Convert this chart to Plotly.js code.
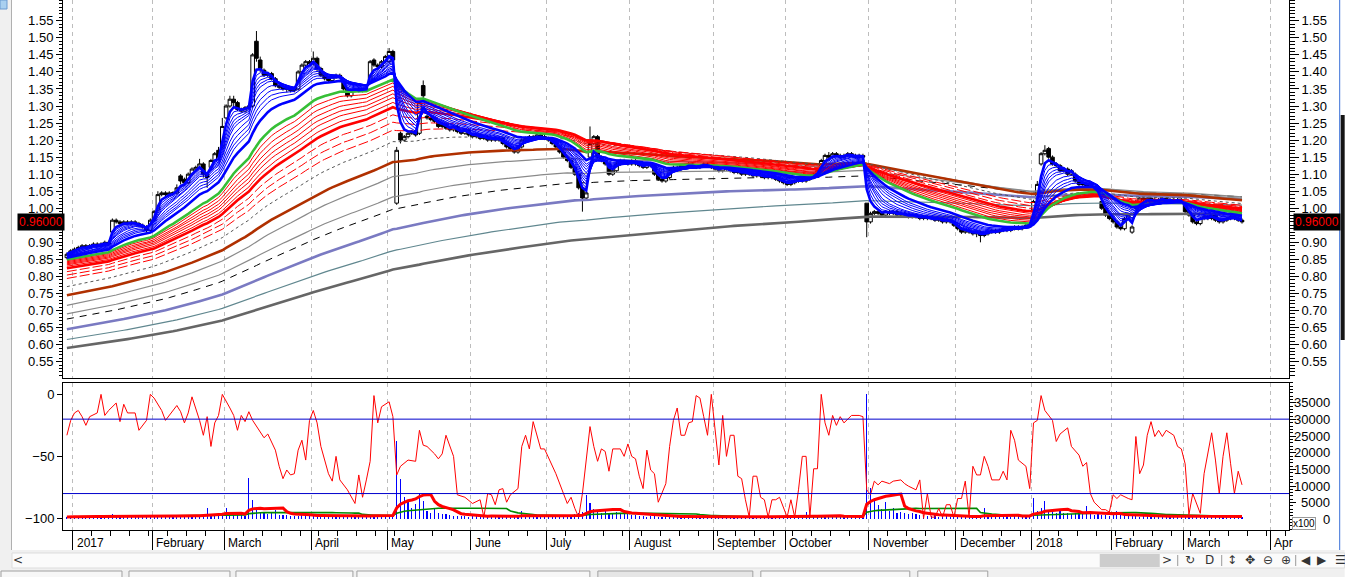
<!DOCTYPE html>
<html><head><meta charset="utf-8">
<script src="https://cdn.plot.ly/plotly-3.0.1.min.js"></script>
<style>html,body{margin:0;padding:0;background:#fff;overflow:hidden}#chart{width:1345px;height:577px}</style>
</head><body><div id="chart"></div>
<script>
// ---------------- DATA ----------------
const monthLabels = ['2017','February','March','April','May','June','July','August','September','October','November','December','2018','February','March','Apr'];
const monthFirstBar = [2,23,42,65,85,107,127,149,171,190,212,235,255,276,295,318];

const priceOpen = [
.855,.865,.875,.88,.885,.89,.885,.89,.895,.89,.895,.9,
.93,.965,.96,.955,.96,.955,.96,.955,.95,.945,.935,
.965,.995,1.04,1.045,1.04,1.045,1.045,
1.095,1.085,1.075,1.10,1.115,1.12,1.13,1.10,1.12,1.14,1.17,
1.18,1.265,1.30,1.32,1.31,1.29,1.285,1.295,
1.30,1.49,1.435,1.405,1.39,1.395,1.38,1.36,1.355,1.35,1.35,1.345,
1.35,1.40,1.42,1.43,1.425,1.44,1.41,1.39,1.38,1.375,1.385,1.39,
1.37,1.35,1.33,1.345,1.35,1.345,1.35,1.37,1.435,1.42,1.415,1.43,1.43,1.46,
1.015,1.22,1.20,1.21,1.22,1.225,1.22,1.36,1.27,1.265,1.26,1.255,1.24,
1.245,1.235,1.23,1.24,1.225,1.22,1.23,1.215,1.21,1.215,1.205,1.21,1.20,
1.205,1.20,1.205,1.19,1.18,1.175,1.165,1.18,1.20,1.205,1.21,1.205,1.215,1.21,1.205,
1.20,1.19,1.18,1.165,1.15,1.14,1.12,1.10,1.06,1.03,1.15,1.19,
1.21,1.15,1.14,1.13,1.10,1.11,1.13,1.14,1.135,1.13,1.14,1.13,1.125,1.12,1.13,
1.125,1.10,1.085,1.08,1.09,1.11,1.12,1.115,1.125,1.12,1.13,1.125,1.12,1.125,1.13,
1.125,1.12,1.115,1.11,1.12,1.115,1.11,1.105,1.11,1.10,1.105,1.10,1.095,1.10,1.095,1.09,1.095,1.09,
1.085,1.08,1.075,1.07,1.075,1.08,1.085,1.08,1.085,1.09,1.10,
1.11,1.14,1.155,1.15,1.16,1.155,1.15,1.155,1.16,1.155,1.15,1.155,
1.015,.96,.985,.99,.985,.98,.99,.985,.99,.98,.985,
.98,.975,.98,.975,.97,.975,.97,.97,.965,.97,.96,.965,
.96,.95,.94,.93,.935,.93,.925,.93,.92,.925,
.93,.935,.93,.935,.94,.935,.94,.945,.94,.945,.95,
.995,1.03,1.13,1.16,1.175,1.15,1.13,1.125,1.11,1.115,1.10,
1.10,1.08,1.07,1.07,1.065,1.06,1.05,1.02,1.00,.98,.97,.96,.945,
.94,.97,.93,1.00,1.02,1.03,1.025,1.03,1.025,1.02,1.025,1.03,1.02,
1.025,1.02,1.025,1.01,.99,.98,.96,.955,.97,.975,.97,.98,.965,.96,.965,.97,.975,.97,.965];

const priceHigh = [
.87,.88,.885,.89,.895,.895,.895,.90,.90,.90,.905,.905,
.97,.97,.965,.965,.965,.965,.965,.96,.955,.95,.97,
.995,1.05,1.05,1.05,1.05,1.05,1.07,
1.10,1.09,1.105,1.12,1.125,1.145,1.135,1.105,1.145,1.165,1.18,
1.265,1.305,1.33,1.33,1.315,1.295,1.30,1.305,
1.455,1.52,1.445,1.41,1.40,1.40,1.385,1.365,1.36,1.355,1.355,1.355,
1.405,1.425,1.435,1.435,1.46,1.445,1.415,1.395,1.385,1.39,1.395,1.395,
1.375,1.355,1.345,1.35,1.355,1.35,1.355,1.435,1.44,1.425,1.435,1.45,1.47,1.465,
1.18,1.225,1.215,1.225,1.23,1.23,1.315,1.375,1.275,1.27,1.265,1.26,1.25,
1.25,1.24,1.245,1.245,1.23,1.235,1.235,1.22,1.22,1.22,1.215,1.215,1.21,
1.21,1.21,1.21,1.195,1.185,1.18,1.185,1.205,1.21,1.215,1.215,1.22,1.22,1.215,1.21,
1.205,1.195,1.185,1.17,1.155,1.145,1.125,1.105,1.065,1.05,1.24,1.215,
1.215,1.155,1.145,1.135,1.115,1.135,1.145,1.145,1.14,1.145,1.145,1.135,1.13,1.135,1.135,
1.13,1.105,1.09,1.095,1.115,1.125,1.125,1.13,1.13,1.135,1.135,1.13,1.13,1.135,1.135,
1.13,1.125,1.12,1.125,1.125,1.12,1.115,1.115,1.115,1.11,1.11,1.105,1.105,1.105,1.10,1.10,1.10,1.095,
1.09,1.085,1.08,1.08,1.085,1.09,1.09,1.09,1.095,1.105,1.115,
1.145,1.16,1.165,1.165,1.165,1.16,1.16,1.165,1.165,1.16,1.16,1.16,
1.015,.99,.995,.995,.99,.995,.995,.995,.995,.99,.99,
.985,.985,.985,.98,.98,.98,.975,.975,.975,.975,.97,.97,
.965,.955,.945,.94,.94,.935,.935,.935,.93,.935,
.94,.94,.94,.945,.945,.945,.95,.95,.95,.955,.96,
1.025,1.08,1.165,1.185,1.18,1.155,1.135,1.13,1.12,1.12,1.115,
1.105,1.085,1.075,1.075,1.075,1.065,1.055,1.025,1.005,.985,.975,.965,.95,
.975,.985,.95,1.025,1.035,1.035,1.035,1.035,1.03,1.03,1.035,1.035,1.03,
1.03,1.03,1.03,1.015,.995,.985,.965,.975,.98,.98,.985,.985,.97,.97,.975,.98,.98,.975,.97];

const priceLow = [
.85,.86,.87,.875,.88,.88,.88,.885,.885,.885,.89,.89,
.925,.955,.95,.95,.95,.95,.95,.945,.94,.93,.93,
.96,.99,1.035,1.035,1.035,1.04,1.04,
1.07,1.065,1.07,1.095,1.11,1.115,1.09,1.06,1.115,1.135,1.145,
1.175,1.26,1.295,1.30,1.285,1.28,1.28,1.29,
1.295,1.43,1.40,1.385,1.385,1.375,1.355,1.35,1.345,1.34,1.34,1.34,
1.345,1.395,1.415,1.42,1.42,1.40,1.385,1.375,1.37,1.37,1.38,1.38,
1.345,1.325,1.325,1.34,1.34,1.34,1.345,1.365,1.415,1.41,1.41,1.425,1.425,1.43,
1.01,1.19,1.195,1.205,1.215,1.21,1.215,1.32,1.26,1.255,1.25,1.235,1.235,
1.23,1.225,1.225,1.22,1.215,1.215,1.21,1.205,1.205,1.20,1.20,1.195,1.195,
1.195,1.195,1.185,1.175,1.17,1.16,1.16,1.175,1.195,1.20,1.20,1.20,1.205,1.20,1.195,
1.185,1.175,1.16,1.145,1.135,1.115,1.095,1.055,.99,1.025,1.145,1.185,
1.145,1.135,1.125,1.095,1.095,1.105,1.125,1.13,1.125,1.125,1.125,1.12,1.115,1.115,1.12,
1.095,1.08,1.075,1.075,1.085,1.105,1.11,1.11,1.115,1.115,1.12,1.115,1.115,1.12,1.12,
1.115,1.11,1.105,1.105,1.11,1.105,1.10,1.10,1.095,1.095,1.095,1.09,1.09,1.09,1.085,1.085,1.085,1.08,
1.075,1.07,1.065,1.065,1.07,1.075,1.075,1.075,1.08,1.085,1.095,
1.105,1.135,1.145,1.145,1.15,1.145,1.145,1.15,1.15,1.145,1.145,1.145,
.915,.955,.98,.98,.975,.975,.98,.98,.975,.975,.975,
.97,.97,.97,.965,.965,.965,.965,.96,.96,.955,.955,.955,
.945,.935,.925,.925,.925,.92,.915,.90,.915,.92,
.925,.925,.925,.93,.93,.93,.935,.935,.935,.94,.945,
.99,1.025,1.125,1.155,1.145,1.125,1.12,1.105,1.105,1.095,1.095,
1.075,1.065,1.06,1.06,1.06,1.045,1.035,.995,.975,.965,.955,.94,.935,
.935,.965,.925,.995,1.015,1.02,1.02,1.02,1.015,1.015,1.02,1.015,1.015,
1.015,1.015,1.015,.985,.975,.955,.95,.95,.965,.965,.965,.96,.955,.955,.96,.965,.965,.96,.955];

const priceClose = [
.865,.875,.88,.885,.89,.885,.89,.895,.89,.895,.9,.895,
.965,.96,.955,.96,.955,.96,.955,.95,.945,.935,.965,
.99,1.04,1.045,1.04,1.045,1.045,1.06,
1.08,1.075,1.10,1.115,1.12,1.13,1.10,1.09,1.14,1.16,1.15,
1.24,1.30,1.32,1.31,1.29,1.285,1.295,1.30,
1.45,1.44,1.41,1.39,1.395,1.38,1.36,1.355,1.35,1.35,1.345,1.35,
1.40,1.42,1.43,1.425,1.44,1.41,1.39,1.38,1.375,1.385,1.39,1.385,
1.35,1.33,1.345,1.35,1.345,1.35,1.35,1.43,1.42,1.415,1.43,1.445,1.46,1.435,
1.17,1.20,1.21,1.22,1.225,1.215,1.31,1.33,1.265,1.26,1.255,1.24,1.245,
1.235,1.23,1.24,1.225,1.22,1.23,1.215,1.21,1.215,1.205,1.21,1.20,1.205,
1.20,1.205,1.19,1.18,1.175,1.165,1.18,1.20,1.205,1.21,1.205,1.215,1.21,1.205,1.20,
1.19,1.18,1.165,1.15,1.14,1.12,1.10,1.06,1.03,1.045,1.19,1.21,
1.15,1.14,1.13,1.10,1.11,1.13,1.14,1.135,1.13,1.14,1.13,1.125,1.12,1.13,1.125,
1.10,1.085,1.08,1.09,1.11,1.12,1.115,1.125,1.12,1.13,1.125,1.12,1.125,1.13,1.125,
1.12,1.115,1.11,1.12,1.115,1.11,1.105,1.11,1.10,1.105,1.10,1.095,1.10,1.095,1.09,1.095,1.09,1.085,
1.08,1.075,1.07,1.075,1.08,1.085,1.08,1.085,1.09,1.10,1.11,
1.14,1.155,1.15,1.16,1.155,1.15,1.155,1.16,1.155,1.15,1.155,1.15,
.96,.985,.99,.985,.98,.99,.985,.99,.98,.985,.98,
.975,.98,.975,.97,.975,.97,.97,.965,.97,.96,.965,.96,
.95,.94,.93,.935,.93,.925,.93,.92,.925,.93,
.935,.93,.935,.94,.935,.94,.945,.94,.945,.95,.955,
1.02,1.07,1.16,1.17,1.15,1.13,1.125,1.11,1.115,1.10,1.11,
1.08,1.07,1.07,1.065,1.07,1.05,1.04,1.00,.98,.97,.96,.945,.94,
.97,.98,.945,1.02,1.03,1.025,1.03,1.025,1.02,1.025,1.03,1.02,1.025,
1.02,1.025,1.02,.99,.98,.96,.955,.97,.975,.97,.98,.965,.96,.965,.97,.975,.97,.965,.96];

// volume, in units of x100 (right axis of the lower panel)
const volume = [
700,900,600,800,1000,700,900,800,1100,700,900,800,
1600,1200,900,1100,800,1000,900,1200,800,900,1000,
1300,1100,900,1000,1200,800,1100,1300,1000,900,1200,1100,1000,1400,
3500,1200,1500,1300,1800,3300,1400,1200,1600,1300,1100,
12500,5800,3000,2200,1800,1500,2000,2700,1400,1200,1300,1000,1100,900,1600,1200,1000,
1100,1300,1000,900,1200,800,1000,900,1100,1300,1000,800,900,1000,1200,900,1400,1100,1000,1200,1300,1500,
23500,12100,6800,5800,3500,4500,8000,5600,2500,2000,3300,1800,1500,1600,
1200,1000,1100,900,1000,800,1200,900,1000,700,900,1100,800,1000,900,700,800,1000,900,
2500,1100,1300,1000,1200,900,1100,1000,800,900,1000,1200,1100,900,1500,1800,2200,
7300,4800,3000,2200,1800,2500,2000,1600,2200,1800,1500,2000,1400,1200,
1000,900,800,1100,900,700,800,900,700,600,800,900,700,800,600,700,900,800,700,600,
800,700,900,600,700,800,600,700,900,800,700,600,700,800,900,700,600,800,700,600,700,800,900,700,
2300,900,800,1000,1200,1100,900,800,1000,700,800,900,700,800,900,1000,
37500,9300,6300,4300,3000,5300,2500,3300,2000,2300,
1800,1500,2000,1600,1200,1400,1000,900,1200,800,1000,900,700,800,1000,700,900,800,1100,900,800,
3300,900,1000,800,1200,900,1000,800,1100,900,1200,1000,1300,
6300,2500,3300,5500,2500,2200,2000,2400,1800,2000,1600,1800,1500,1700,
4000,1500,1300,1600,1200,1400,1100,1300,2600,
1200,1000,900,1100,1000,800,900,1000,1200,900,800,1000,900,700,800,1100,900,1000,800,900,
1000,700,800,900,1000,800,700,900,800,1000,900,800,700];

// Williams %R (null = not read at that bar)
const williamsR = [
-33,-21,-15,-13,-18,-25,-18,null,-15,0,
-17,-13,null,-7,-22,-8,-15,null,-15,-29,
null,-21,0,-3,null,-13,-21,null,null,-9,
-14,-23,-15,-2,null,-21,-33,-18,-42,-23,
-17,0,null,-11,-17,-29,-17,-22,-14,-21,
-26,null,-35,-32,null,-45,-58,-68,-61,-65,
-64,-45,-37,-53,-21,-13,-23,-42,null,-64,
-70,-50,-69,null,-77,null,-88,-65,-83,-69,
-54,-1,-23,-10,null,-6,-18,-65,-58,null,
-53,null,-54,-29,-41,-42,null,-48,-52,-48,
-33,null,-50,-81,null,-83,null,-88,null,-85,
-99,-80,-81,-89,-77,-76,-87,-81,null,-76,
-42,-33,-44,-22,null,-44,-44,null,null,-64,
null,-81,-88,-83,-92,-99,-80,null,-26,-42,
-54,-44,-46,-62,-44,null,-44,-50,-40,-50,
-52,-66,-76,-45,-61,-64,-87,null,-72,-42,
-21,-11,-33,-33,-23,-22,-1,-3,-18,-33,
0,-26,-57,-17,-50,-33,-33,-66,-68,-85,
-99,-66,-66,-83,-85,-99,-85,-85,-83,null,
-99,-85,-99,-77,-50,-50,-99,-60,-60,0,
-23,-33,-17,-25,-18,-23,null,-17,null,-17,
-18,-77,-81,-70,-73,-70,null,-72,-70,null,
-69,-72,-74,null,-77,-69,-100,-80,-99,-99,
-92,-99,-89,-89,-99,-84,-84,-70,-99,-58,
-65,-65,-50,-58,-69,null,-69,-62,-69,-29,
-37,-53,null,-58,-76,-23,-21,-1,-13,null,
-21,-38,-32,null,-27,-42,null,-49,-58,-55,
-80,-87,null,-93,-93,-95,-81,-84,-81,null,
-84,-85,-34,-64,-57,-33,-22,-34,-29,-34,
-29,null,-33,-42,-44,-56,-97,-80,null,-96,
-64,null,-31,-53,-80,-50,-31,-56,-80,-62,
-73];

// moving-average ribbons: EMA periods and their values at the left edge of the chart
const fastPeriods = [3,4,5,6,7,8,10,12,14,16,20];
const fastSeeds   = [0.866,0.865,0.864,0.863,0.862,0.861,0.860,0.859,0.858,0.857,0.855];
const midPeriod = 30, midSeed = 0.850;
const slowPeriods = [34,38,42,46,50,55,60,68,76,85];
const slowSeeds   = [0.846,0.843,0.840,0.837,0.834,0.830,0.824,0.814,0.804,0.794];
const trendPeriods = [98,125,145,180,205,250,310,380];
const trendSeeds   = [0.770,0.745,0.715,0.690,0.675,0.645,0.615,0.590];
const volumeAvgPeriods = [10,30];
const lastPrice = 0.96;

// ---------------- checks ----------------
[['open',priceOpen],['high',priceHigh],['low',priceLow],['close',priceClose],['vol',volume],['wr',williamsR]].forEach(([n,a])=>{
  if (a.length !== priceClose.length) throw new Error(n+' length '+a.length+' vs '+priceClose.length);
});

// ---------------- helpers ----------------
const bars = priceClose.map((_, i) => i);
const monthTicks = monthFirstBar.map(b => b - 0.5);
function ema(vals, period, seed){ const k = 2/(period+1); let e = seed; const out = [seed];
  for (let i=1;i<vals.length;i++){ e += k*(vals[i]-e); out.push(e); } return out; }
function sma(vals, n){ return vals.map((_, i) => { const s = Math.max(0, i-n+1); let t = 0;
  for (let k=s;k<=i;k++) t += vals[k]; return t/(i-s+1); }); }

// ---------------- styles ----------------
const BOLD = 2.6;
const trendStyles = [
  {color:'#555555', width:1, dash:'3px,3px'},
  {color:'#b03000', width:BOLD},
  {color:'#8a8a8a', width:1.2},
  {color:'#8a8a8a', width:1.2},
  {color:'#000000', width:1, dash:'7px,6px'},
  {color:'#7a7ac2', width:BOLD},
  {color:'#60878f', width:1.2},
  {color:'#666666', width:BOLD}
];
const slowBoldIndex = 6;

const traces = [];
function priceLine(y, style){ traces.push({type:'scatter', mode:'lines', x:bars, y:y, xaxis:'x2', yaxis:'y',
  line:style, hoverinfo:'skip', showlegend:false}); }

for (let j=trendPeriods.length-1;j>=0;j--) priceLine(ema(priceClose, trendPeriods[j], trendSeeds[j]), trendStyles[j]);
for (let j=slowPeriods.length-1;j>=0;j--) {
  const st = j === slowBoldIndex ? {color:'#ff0000', width:BOLD}
           : j > slowBoldIndex ? {color:'#ff0000', width:1, dash:'10px,3px'} : {color:'#ff0000', width:1};
  priceLine(ema(priceClose, slowPeriods[j], slowSeeds[j]), st);
}
priceLine(ema(priceClose, midPeriod, midSeed), {color:'#36bf36', width:BOLD});
for (let j=fastPeriods.length-1;j>=0;j--) {
  const bold = j === 0 || j === fastPeriods.length-1;
  priceLine(ema(priceClose, fastPeriods[j], fastSeeds[j]), {color:'#0000ff', width: bold ? BOLD : 1});
}
traces.push({type:'candlestick', x:bars, open:priceOpen, high:priceHigh, low:priceLow, close:priceClose,
  xaxis:'x2', yaxis:'y', whiskerwidth:0, hoverinfo:'skip', showlegend:false,
  increasing:{line:{color:'#000000', width:1}, fillcolor:'#ffffff'},
  decreasing:{line:{color:'#000000', width:1}, fillcolor:'#000000'}});
// invisible point so the right-hand price axis is drawn
traces.push({type:'scatter', mode:'markers', x:[bars[bars.length-1]], y:[priceClose[priceClose.length-1]],
  xaxis:'x2', yaxis:'y3', marker:{opacity:0}, hoverinfo:'skip', showlegend:false});

// lower panel
traces.push({type:'bar', x:bars, y:volume, xaxis:'x', yaxis:'y2', width:0.3,
  marker:{color:'#0000ff', line:{width:0}}, hoverinfo:'skip', showlegend:false});
traces.push({type:'scatter', mode:'lines', x:bars, y:sma(volume, volumeAvgPeriods[1]), xaxis:'x', yaxis:'y2',
  line:{color:'#008a00', width:1.6}, hoverinfo:'skip', showlegend:false});
traces.push({type:'scatter', mode:'lines', x:bars, y:sma(volume, volumeAvgPeriods[0]), xaxis:'x', yaxis:'y2',
  line:{color:'#ff0000', width:3}, hoverinfo:'skip', showlegend:false});
traces.push({type:'scatter', mode:'lines', x:bars, y:williamsR, xaxis:'x', yaxis:'y4', connectgaps:true,
  line:{color:'#ff0000', width:1}, hoverinfo:'skip', showlegend:false});

// ---------------- layout ----------------
const PL = 63, PW = 1226.3, PH = 530;           // plot box in pixels
const px = v => (v - PL) / PW;                   // pixel -> paper x
const py = v => (PH - v) / PH;                   // pixel -> paper y
const xRange = [-1.03, 322.4];
const priceRange = [0.502, 1.611];
const priceTicks = [0.55,0.60,0.65,0.70,0.75,0.80,0.85,0.90,0.95,1.00,1.05,1.10,1.15,1.20,1.25,1.30,1.35,1.40,1.45,1.50,1.55];
const priceTickText = priceTicks.map(v => Math.abs(v - 0.95) < 1e-9 ? '' : v.toFixed(2)); // 0.95 is hidden under the price box
const volTicks = [0,5000,10000,15000,20000,25000,30000,35000];
const font = {family:'Liberation Sans, Arial, sans-serif', size:13, color:'#000'};

const gridX = {showgrid:true, gridcolor:'#bdbdbd', griddash:'4px,4px', gridwidth:1};
function yPrice(len){ return {range:priceRange, tickvals:priceTicks, ticktext:priceTickText, ticks:'outside', ticklen:len, tickcolor:'#000',
  showgrid:false, zeroline:false, showline:true, linecolor:'#000', linewidth:1, tickfont:font,
  minor:{dtick:0.01, tick0:0.55, ticks:'outside', ticklen:len/2, tickcolor:'#000', showgrid:false}, fixedrange:true}; }

const shapes = [
  {type:'line', xref:'paper', x0:0, x1:1, yref:'y4', y0:-20, y1:-20, line:{color:'#0000cc', width:1}},
  {type:'line', xref:'paper', x0:0, x1:1, yref:'y4', y0:-80, y1:-80, line:{color:'#0000cc', width:1}},
  // window chrome
  {type:'rect', xref:'paper', yref:'paper', x0:px(0), x1:px(1345), y0:py(577), y1:py(550), fillcolor:'#f0f0f0', line:{width:0}},
  {type:'rect', xref:'paper', yref:'paper', x0:px(12), x1:px(1345), y0:py(568), y1:py(553), fillcolor:'#fbfbfb', line:{color:'#dddddd', width:1}},
  {type:'rect', xref:'paper', yref:'paper', x0:px(1100), x1:px(1160), y0:py(567), y1:py(554), fillcolor:'#cdcdcd', line:{width:0}},
  {type:'line', xref:'paper', yref:'paper', x0:px(1178), x1:px(1178), y0:py(566), y1:py(555), line:{color:'#999', width:1}},
  {type:'line', xref:'paper', yref:'paper', x0:px(1222), x1:px(1222), y0:py(566), y1:py(555), line:{color:'#999', width:1}},
  {type:'line', xref:'paper', yref:'paper', x0:px(1296), x1:px(1296), y0:py(566), y1:py(555), line:{color:'#999', width:1}},
  {type:'rect', xref:'paper', yref:'paper', x0:px(1), x1:px(122), y0:py(578), y1:py(571), fillcolor:'#f7f7f7', line:{color:'#a0a0a0', width:1}},
  {type:'rect', xref:'paper', yref:'paper', x0:px(129), x1:px(230), y0:py(578), y1:py(571), fillcolor:'#f7f7f7', line:{color:'#a0a0a0', width:1}},
  {type:'rect', xref:'paper', yref:'paper', x0:px(236), x1:px(353), y0:py(578), y1:py(571), fillcolor:'#f7f7f7', line:{color:'#a0a0a0', width:1}},
  {type:'rect', xref:'paper', yref:'paper', x0:px(357), x1:px(590), y0:py(578), y1:py(571), fillcolor:'#f7f7f7', line:{color:'#a0a0a0', width:1}},
  {type:'rect', xref:'paper', yref:'paper', x0:px(598), x1:px(753), y0:py(578), y1:py(571), fillcolor:'#e6e6e6', line:{color:'#a0a0a0', width:1}},
  {type:'rect', xref:'paper', yref:'paper', x0:px(761), x1:px(910), y0:py(578), y1:py(571), fillcolor:'#f7f7f7', line:{color:'#a0a0a0', width:1}},
  {type:'rect', xref:'paper', yref:'paper', x0:px(918), x1:px(988), y0:py(578), y1:py(571), fillcolor:'#f7f7f7', line:{color:'#a0a0a0', width:1}},
  {type:'rect', xref:'paper', yref:'paper', x0:px(0), x1:px(11), y0:py(550), y1:py(0), fillcolor:'#f0f0f0', line:{width:0}},
  {type:'line', xref:'paper', yref:'paper', x0:px(11.5), x1:px(11.5), y0:py(550), y1:py(0), line:{color:'#b0b0b0', width:1}},
  {type:'rect', xref:'paper', yref:'paper', x0:px(0), x1:px(7), y0:py(9), y1:py(0), fillcolor:'#a9d0f0', line:{color:'#6a9ad0', width:1}},
  {type:'line', xref:'paper', yref:'paper', x0:px(1340), x1:px(1340), y0:py(550), y1:py(0), line:{color:'#3a70d8', width:1}},
  {type:'rect', xref:'paper', yref:'paper', x0:px(1341), x1:px(1345), y0:py(340), y1:py(115), fillcolor:'#151515', line:{width:0}}
];

const annotations = monthTicks.map((t, k) => ({xref:'x', yref:'paper', x:t, y:py(543), text:monthLabels[k],
  xanchor:'left', yanchor:'middle', xshift:2, showarrow:false, font:{family:font.family, size:12, color:'#000'}}));
// right-aligned volume axis labels
volTicks.forEach(v => annotations.push({xref:'paper', yref:'y2', x:px(1332), y:v, text:String(v), xanchor:'right',
  yanchor:'middle', showarrow:false, font:font}));
annotations.push(
  {xref:'paper', yref:'y', x:px(17), y:lastPrice, text:lastPrice.toFixed(5), xanchor:'left', yanchor:'middle', showarrow:false,
   bgcolor:'#000', borderpad:1, font:{family:font.family, size:12, color:'#ff0000'}},
  {xref:'paper', yref:'y', x:px(1293), y:lastPrice, text:lastPrice.toFixed(5), xanchor:'left', yanchor:'middle', showarrow:false,
   bgcolor:'#000', borderpad:1, font:{family:font.family, size:12, color:'#ff0000'}},
  {xref:'paper', yref:'paper', x:px(1292), y:py(523), text:'x100', xanchor:'left', yanchor:'middle', showarrow:false,
   bgcolor:'#fff', bordercolor:'#999', borderwidth:1, borderpad:0, font:{family:font.family, size:10, color:'#000'}}
);
[[18,'<'],[1167,'>'],[1190,'\u21bb'],[1210,'D'],[1232,'\u2195'],[1250,'\u2725'],[1268,'\u2296'],[1286,'\u2295'],[1306,'\u25c0'],[1322,'\u25b6'],[1341,'\u2630']]
.forEach(([x,t]) => annotations.push({xref:'paper', yref:'paper', x:px(x), y:py(560), text:t, showarrow:false,
  xanchor:'center', yanchor:'middle', font:{family:'DejaVu Sans, sans-serif', size:12, color:'#333'}}));

const layout = {
  width:1345, height:577, margin:{l:PL, r:1345-PL-PW, t:0, b:577-PH, pad:0},
  paper_bgcolor:'#ffffff', plot_bgcolor:'#ffffff', showlegend:false, font:font, boxgap:0.05, boxgroupgap:0,
  xaxis: Object.assign({domain:[0,1], anchor:'y2', range:xRange, tickvals:monthTicks, ticks:'outside', ticklen:19,
    tickwidth:1, tickcolor:'#000', showticklabels:false, showline:true, linecolor:'#000', mirror:true, zeroline:false,
    rangeslider:{visible:false}, fixedrange:true,
    minor:{dtick:5, tick0:1.5, ticks:'outside', ticklen:5, tickcolor:'#000', showgrid:false}}, gridX),
  xaxis2: Object.assign({domain:[0,1], anchor:'y', matches:'x', range:xRange, tickvals:monthTicks, ticks:'',
    showticklabels:false, showline:true, linecolor:'#000', mirror:true, zeroline:false, rangeslider:{visible:false}, fixedrange:true}, gridX),
  yaxis: Object.assign({domain:[py(378), 1], anchor:'x2', side:'left'}, yPrice(6)),
  yaxis3: Object.assign({overlaying:'y', anchor:'x2', side:'right'}, yPrice(9)),
  yaxis2: {domain:[0, py(382.7)], anchor:'x', side:'right', range:[-3211, 41014], tickvals:volTicks, showticklabels:false,
    ticks:'outside', ticklen:6, tickcolor:'#000', showgrid:false, zeroline:false, showline:true, linecolor:'#000',
    minor:{dtick:1000, ticks:'outside', ticklen:3, tickcolor:'#000', showgrid:false}, fixedrange:true},
  yaxis4: {overlaying:'y2', anchor:'x', side:'left', range:[-109.4, 9.4], tickvals:[0,-50,-100], ticks:'outside', ticklen:5,
    tickcolor:'#000', showgrid:false, zeroline:false, showline:true, linecolor:'#000', tickfont:font, fixedrange:true},
  shapes:shapes, annotations:annotations, bargap:0
};

Plotly.newPlot('chart', traces, layout, {staticPlot:true, displayModeBar:false});
</script>
</body></html>
